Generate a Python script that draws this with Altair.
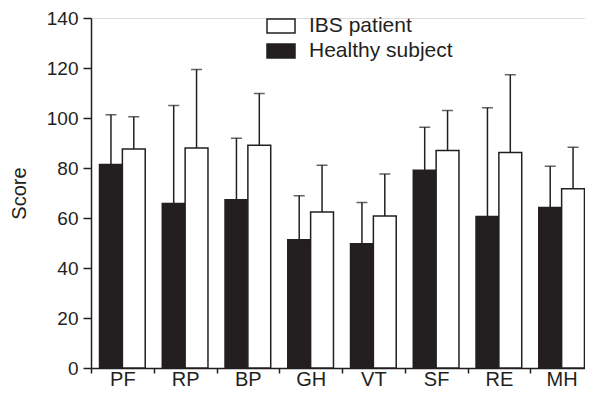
import altair as alt
import pandas as pd

categories = ["PF", "RP", "BP", "GH", "VT", "SF", "RE", "MH"]
healthy_mean = [81.4, 65.8, 67.3, 51.3, 49.7, 79.1, 60.6, 64.2]
healthy_sd = [19.9, 39.2, 24.6, 17.6, 16.5, 17.2, 43.5, 16.5]
ibs_mean = [87.6, 88.0, 89.1, 62.4, 60.8, 87.0, 86.2, 71.7]
ibs_sd = [12.9, 31.4, 20.7, 18.7, 16.8, 16.0, 31.1, 16.6]
groups = ["IBS patient", "Healthy subject"]

rows = []
for i, c in enumerate(categories):
    rows.append({"cat": c, "group": "Healthy subject", "mean": healthy_mean[i],
                 "upper": healthy_mean[i] + healthy_sd[i]})
    rows.append({"cat": c, "group": "IBS patient", "mean": ibs_mean[i],
                 "upper": ibs_mean[i] + ibs_sd[i]})
df = pd.DataFrame(rows)

DARK = "#231f20"
FONT = "Liberation Sans"

x = alt.X("cat:N", sort=categories, title=None,
          scale=alt.Scale(paddingInner=0, paddingOuter=0),
          axis=alt.Axis(labelAngle=0, tickBand="extent", bandPosition=0.5,
                        labelAlign="center", tickSize=5,
                        labelFontSize=20, labelPadding=6, labelColor=DARK,
                        domainColor=DARK, tickColor=DARK, domainWidth=1.5, tickWidth=1.5))
xo = alt.XOffset("group:N", sort=["Healthy subject", "IBS patient"],
                 scale=alt.Scale(paddingInner=0, paddingOuter=0.373))

bars = alt.Chart(df).mark_bar(stroke=DARK, strokeWidth=1.5).encode(
    x=x,
    xOffset=xo,
    y=alt.Y("mean:Q", title="Score",
            scale=alt.Scale(domain=[0, 140], nice=False),
            axis=alt.Axis(values=list(range(0, 141, 20)), grid=False, tickSize=8,
                          labelFontSize=19, labelPadding=5, labelColor=DARK,
                          titleFontSize=20, titleFontWeight="normal", titleColor=DARK,
                          titlePadding=17, domainColor=DARK, tickColor=DARK,
                          domainWidth=1.5, tickWidth=1.5)),
    fill=alt.Fill("group:N",
                  scale=alt.Scale(domain=groups, range=["white", DARK]),
                  legend=alt.Legend(title=None, orient="none", legendX=175, legendY=-7,
                                    symbolType="M-1,-0.5H1V0.5H-1Z", symbolSize=784,
                                    symbolStrokeColor=DARK, symbolStrokeWidth=1.5,
                                    labelFontSize=21, labelColor=DARK, labelOffset=13,
                                    rowPadding=-4, padding=0, labelFont=FONT)),
)

err = alt.Chart(df).mark_rule(color=DARK, strokeWidth=1.5).encode(
    x=alt.X("cat:N", sort=categories), xOffset=xo,
    y="mean:Q", y2="upper:Q")

caps = alt.Chart(df).mark_tick(color=DARK, thickness=1.5, size=11, orient="horizontal").encode(
    x=alt.X("cat:N", sort=categories), xOffset=xo,
    y="upper:Q")

chart = alt.layer(err, bars, caps).properties(
    width=502, height=350,
    autosize=alt.AutoSizeParams(type="none"),
    padding={"left": 83, "top": 10, "right": -8, "bottom": 25},
).configure_view(stroke=None).configure(font=FONT)

chart.save("out.html", embed_options={"renderer": "svg", "actions": False})
